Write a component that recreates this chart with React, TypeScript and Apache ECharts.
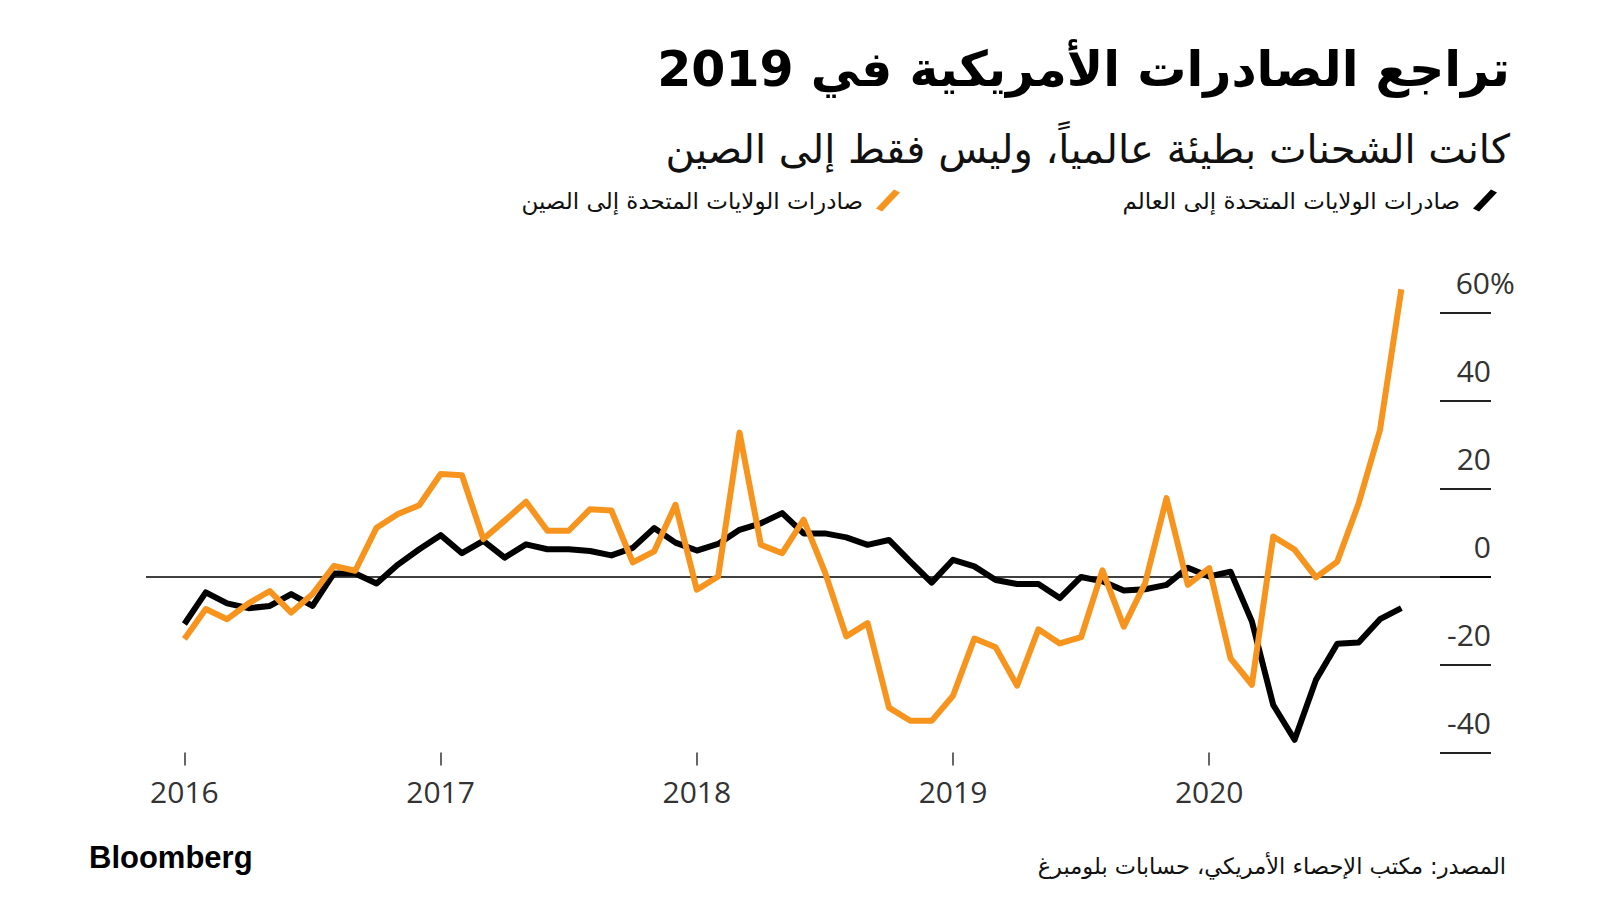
import React, { useEffect, useRef } from "react";
import * as echarts from "echarts";

// Monthly year-over-year change (%), Jan 2016 .. Oct 2020
const worldName = "صادرات الولايات المتحدة إلى العالم";
const chinaName = "صادرات الولايات المتحدة إلى الصين";

const worldExports = [
  -10.8, -3.6, -6.1, -7.2, -6.7, -4.0, -6.7, 0.7, 0.7, -1.6, 2.7, 6.2,
  9.4, 5.3, 8.1, 4.3, 7.3, 6.2, 6.2, 5.8, 4.8, 6.5, 11.0, 7.7,
  5.9, 7.4, 10.6, 12.1, 14.4, 9.8, 9.8, 8.9, 7.2, 8.3, 3.4, -1.4,
  3.8, 2.3, -0.8, -1.7, -1.7, -4.9, -0.1, -1.1, -3.2, -2.9, -1.9, 2.0,
  0.0, 1.1, -10.2, -29.2, -37.1, -23.5, -15.3, -15.0, -9.7, -7.2,
];

const chinaExports = [
  -14.2, -7.4, -9.7, -6.1, -3.3, -8.2, -4.0, 2.4, 1.3, 11.1, 14.2, 16.2,
  23.3, 23.0, 8.5, 12.7, 17.0, 10.4, 10.4, 15.3, 15.0, 3.2, 5.7, 16.3,
  -3.0, 0.0, 32.7, 7.2, 5.3, 12.9, 1.0, -13.6, -10.6, -29.8, -32.8, -32.8,
  -27.1, -14.1, -16.1, -24.8, -12.0, -15.2, -13.8, 1.4, -11.4, -1.5, 17.8, -1.9,
  1.9, -18.6, -24.6, 9.1, 6.1, -0.2, 3.4, 16.6, 33.3, 65.3,
];

const yearTickMonths = [0, 12, 24, 36, 48];
const yearLabels = ["2016", "2017", "2018", "2019", "2020"];
const yTicks = [-40, -20, 0, 20, 40, 60];

const titleText = "تراجع الصادرات الأمريكية في 2019";
const subtitleText = "كانت الشحنات بطيئة عالمياً، وليس فقط إلى الصين";
const sourceText = "المصدر: مكتب الإحصاء الأمريكي، حسابات بلومبرغ";

const ORANGE = "#F7941D";
const ARABIC_FONT = "DejaVu Sans";
const NUM_FONT = "Open Sans";
const slashIcon = "path://M19,0 L25,3 L7,22 L1,19 Z";

const GRID_LEFT = 146;
const GRID_RIGHT = 109;

export default function App() {
  const ref = useRef<HTMLDivElement>(null);

  useEffect(() => {
    if (!ref.current) return;
    const chart = echarts.init(ref.current, null, { renderer: "svg" });
    const toPairs = (arr: number[]) => arr.map((v, i) => [i, v]);
    const gridWidth = 1600 - GRID_LEFT - GRID_RIGHT;

    const legendText = {
      fontFamily: ARABIC_FONT,
      fontSize: 23,
      color: "#111",
      padding: [0, 7, 0, 0],
    };

    chart.setOption({
      animation: false,
      backgroundColor: "#ffffff",
      grid: { left: GRID_LEFT, right: GRID_RIGHT, top: 268.5, bottom: 147.5 },
      legend: [
        {
          data: [{ name: worldName, icon: slashIcon }],
          right: 98,
          top: 184,
          align: "right",
          itemWidth: 26,
          itemHeight: 22,
          selectedMode: false,
          textStyle: legendText,
        },
        {
          data: [{ name: chinaName, icon: slashIcon }],
          right: 695,
          top: 184,
          align: "right",
          itemWidth: 26,
          itemHeight: 22,
          selectedMode: false,
          textStyle: legendText,
        },
      ],
      xAxis: {
        type: "value",
        min: -1.8,
        max: 61.2,
        axisLine: { show: false, onZero: false },
        splitLine: { show: false },
        axisTick: {
          show: true,
          customValues: yearTickMonths,
          length: 13,
          lineStyle: { color: "#333", width: 1.5 },
        },
        axisLabel: {
          customValues: yearTickMonths,
          formatter: (v: number) => yearLabels[yearTickMonths.indexOf(Math.round(v))] ?? "",
          margin: 24,
          fontFamily: NUM_FONT,
          fontSize: 30,
          color: "#333",
        },
      },
      yAxis: {
        type: "value",
        position: "left",
        offset: -gridWidth,
        min: -40,
        max: 70,
        axisLine: { show: false, onZero: false },
        splitLine: { show: false },
        axisTick: {
          show: true,
          customValues: yTicks,
          length: 51,
          lineStyle: { color: "#222", width: 2 },
        },
        axisLabel: {
          customValues: yTicks,
          margin: 0,
          formatter: (v: number) => (v === 60 ? "{n|60}{p|%}" : "{n|" + v + "}"),
          verticalAlign: "bottom",
          padding: [0, 0, 15, 0],
          rich: {
            n: { fontFamily: NUM_FONT, fontSize: 30, color: "#333", lineHeight: 30, align: "left" },
            p: { fontFamily: NUM_FONT, fontSize: 30, color: "#333", lineHeight: 30, width: 1, align: "left" },
          },
        },
      },
      series: [
        {
          name: worldName,
          type: "line",
          data: toPairs(worldExports),
          showSymbol: false,
          symbol: "none",
          color: "#000000",
          lineStyle: { color: "#000000", width: 6, join: "round" },
          z: 3,
          markLine: {
            silent: true,
            symbol: ["none", "none"],
            label: { show: false },
            lineStyle: { color: "#000", width: 1.5, type: "solid" },
            data: [{ yAxis: 0 }],
            z: 1,
          },
        },
        {
          name: chinaName,
          type: "line",
          data: toPairs(chinaExports),
          showSymbol: false,
          symbol: "none",
          color: ORANGE,
          lineStyle: { color: ORANGE, width: 6, join: "round" },
          z: 4,
        },
      ],
      graphic: [
        {
          type: "text",
          x: 1510,
          y: 69,
          style: {
            text: titleText,
            fontFamily: ARABIC_FONT,
            fontWeight: "bold",
            fontSize: 49,
            fill: "#000",
            textAlign: "right",
            textVerticalAlign: "middle",
          },
        },
        {
          type: "text",
          x: 1510,
          y: 149,
          style: {
            text: subtitleText,
            fontFamily: ARABIC_FONT,
            fontSize: 40,
            fill: "#111",
            textAlign: "right",
            textVerticalAlign: "middle",
          },
        },
        {
          type: "text",
          x: 1506,
          y: 866,
          style: {
            text: sourceText,
            fontFamily: ARABIC_FONT,
            fontSize: 22.5,
            fill: "#111",
            textAlign: "right",
            textVerticalAlign: "middle",
          },
        },
        {
          type: "text",
          x: 89,
          y: 857,
          style: {
            text: "Bloomberg",
            fontFamily: "Liberation Sans",
            fontWeight: "bold",
            fontSize: 31,
            fill: "#000",
            textAlign: "left",
            textVerticalAlign: "middle",
          },
        },
      ],
    });

    return () => chart.dispose();
  }, []);

  return (
    <div
      ref={ref}
      style={{ position: "fixed", left: 0, top: 0, width: 1600, height: 900, background: "#fff" }}
    />
  );
}
